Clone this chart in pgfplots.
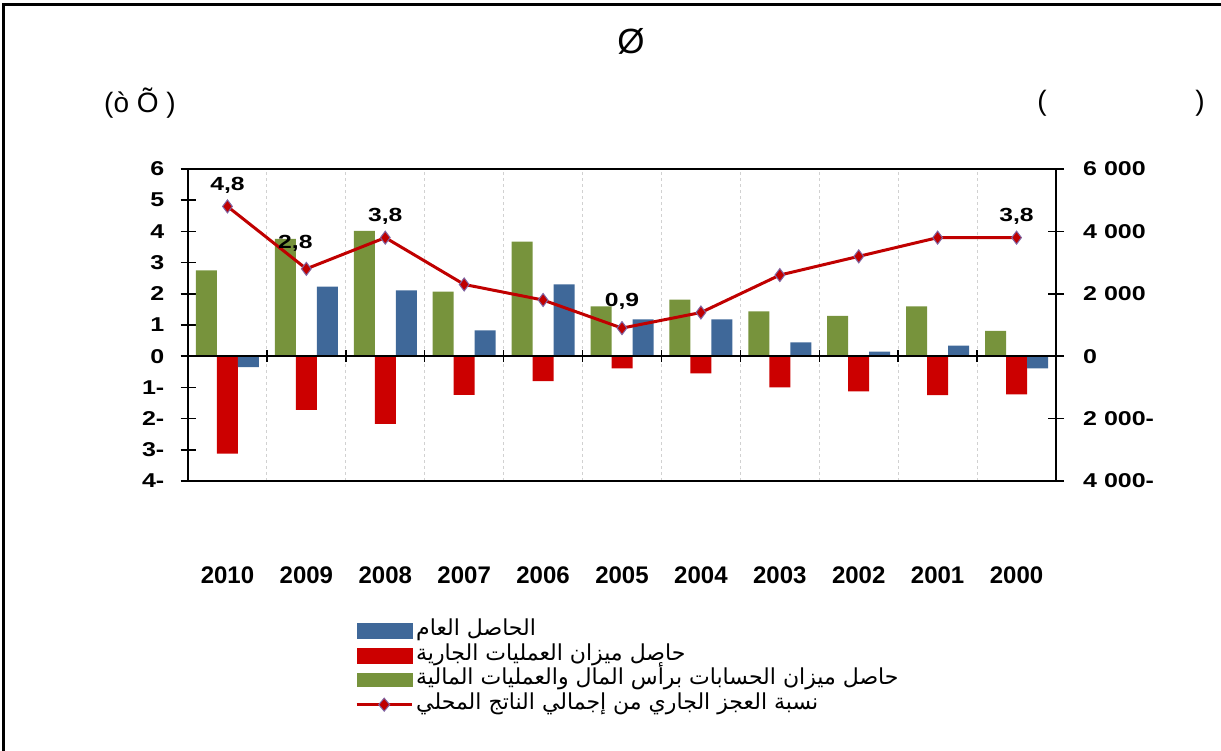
\documentclass[border=0pt]{standalone}
\usepackage{pgfplots}
\pgfplotsset{compat=1.18}
\usepackage{pgfplotstable}
\usepackage{fontspec}
\setmainfont{Liberation Sans}
\newfontfamily\arabicfont[Script=Arabic]{DejaVu Sans}
\TeXXeTstate=1
\definecolor{greenB}{HTML}{77933C}
\definecolor{redB}{HTML}{CC0000}
\definecolor{blueB}{HTML}{3F6899}
\definecolor{lineR}{HTML}{C00000}
\definecolor{markB}{HTML}{8064A2}
\newcommand{\tl}[1]{\scalebox{1.25}[1]{\bfseries #1}}
\newcommand{\dl}[1]{\scalebox{1.3}[1]{\bfseries #1}}

\pgfplotstableread{
x green red blue ratio
0 2.75 -3.12 -0.35 4.8
1 3.76 -1.72 2.23 2.8
2 4.02 -2.17 2.11 3.8
3 2.07 -1.24 0.83 2.3
4 3.67 -0.80 2.30 1.8
5 1.60 -0.39 1.18 0.9
6 1.81 -0.55 1.18 1.4
7 1.44 -1.00 0.44 2.6
8 1.29 -1.13 0.15 3.2
9 1.60 -1.25 0.34 3.8
10 0.81 -1.22 -0.39 3.8
}\data

\pgfplotstableread{
x y label
0 4.8 4,8
2 3.8 3,8
10 3.8 3,8
}\labA
\pgfplotstableread{
x y label
1 2.8 2,8
}\labB
\pgfplotstableread{
x y label
5 0.9 0,9
}\labC

\begin{document}
\begin{tikzpicture}[x=1pt,y=1pt]
\path[use as bounding box] (0,0) rectangle (1221,751);
\draw[line width=3pt] (3,0) -- (3,746) -- (1221,746);
\node[font=\fontsize{35}{37}\selectfont] at (631,710) {Ø};
\node[font=\fontsize{28}{30}\selectfont] at (140,648) {(ò Õ )};
\node[font=\fontsize{28}{30}\selectfont] at (1042,648) {(};
\node[font=\fontsize{28}{30}\selectfont] at (1200,648) {)};

\begin{axis}[
  at={(188pt,270pt)}, anchor=south west,
  scale only axis, width=868pt, height=312pt,
  xmin=-0.5, xmax=10.5, ymin=-4, ymax=6,
  axis line style={line width=2pt},
  ytick={-4,...,6},
  yticklabels={\tl{4-},\tl{3-},\tl{2-},\tl{1-},\tl{0},\tl{1},\tl{2},\tl{3},\tl{4},\tl{5},\tl{6}},
  ytick pos=left, ytick align=center,
  major tick length=15pt, minor tick length=0pt,
  tick style={black, line width=1.5pt},
  yticklabel style={font=\fontsize{20}{21}\selectfont, anchor=east, inner sep=0pt, xshift=-16pt},
  xtick={0,...,10},
  xticklabels={2010,2009,2008,2007,2006,2005,2004,2003,2002,2001,2000},
  xtick style={draw=none},
  xticklabel style={font=\bfseries\fontsize{24}{25}\selectfont, inner sep=0pt, anchor=north, yshift=-86pt},
  minor xtick={0.5,1.5,...,9.5},
  xminorgrids=true,
  minor x grid style={dashed, black!18, line width=1pt},
  clip=false,
  legend style={at={(0.1924,-0.447)}, anchor=north west, draw=none, fill=none, inner sep=0pt,
     font=\arabicfont\fontsize{22}{24}\selectfont, row sep=3.5pt, column sep=3pt,
     nodes={inner sep=0pt, text height=15pt, text depth=6pt}},
  legend cell align=left,
]
\addplot[ybar, bar width=21pt, bar shift=-21pt, fill=greenB, draw=none, forget plot] table[x=x,y=green] {\data};
\addplot[ybar, bar width=21pt, bar shift=0pt, fill=redB, draw=none, forget plot] table[x=x,y=red] {\data};
\addplot[ybar, bar width=21pt, bar shift=21pt, fill=blueB, draw=none, forget plot] table[x=x,y=blue] {\data};
\draw[line width=2pt] (axis cs:-0.5,0) -- (axis cs:10.5,0);
\pgfplotsinvokeforeach{0.5,1.5,2.5,3.5,4.5,5.5,6.5,7.5,8.5,9.5}{\draw[line width=1.5pt] ([yshift=-6pt]axis cs:#1,0) -- ([yshift=6pt]axis cs:#1,0);}
\addplot[lineR, line width=3pt, mark=diamond*, mark size=6.5pt, mark options={fill=lineR, draw=markB, line width=1pt}, forget plot] table[x=x,y=ratio] {\data};
\addplot[draw=none, mark=none, forget plot, nodes near coords={\dl{\pgfplotspointmeta}}, point meta=explicit symbolic,
  nodes near coords style={font=\fontsize{19}{21}\selectfont, anchor=center, yshift=21pt}] table[x=x,y=y,meta=label] {\labA};
\addplot[draw=none, mark=none, forget plot, nodes near coords={\dl{\pgfplotspointmeta}}, point meta=explicit symbolic,
  nodes near coords style={font=\fontsize{19}{21}\selectfont, anchor=center, yshift=25pt, xshift=-11pt}] table[x=x,y=y,meta=label] {\labB};
\addplot[draw=none, mark=none, forget plot, nodes near coords={\dl{\pgfplotspointmeta}}, point meta=explicit symbolic,
  nodes near coords style={font=\fontsize{19}{21}\selectfont, anchor=center, yshift=27pt}] table[x=x,y=y,meta=label] {\labC};

\addlegendimage{legend image code/.code={\fill[blueB] (0pt,-7.5pt) rectangle (55pt,7.5pt);}}
\addlegendentry{\beginR الحاصل العام\endR}
\addlegendimage{legend image code/.code={\fill[redB] (0pt,-7.5pt) rectangle (55pt,7.5pt);}}
\addlegendentry{\beginR حاصل ميزان العمليات الجارية\endR}
\addlegendimage{legend image code/.code={\fill[greenB] (0pt,-6.5pt) rectangle (55pt,6.5pt);}}
\addlegendentry{\beginR حاصل ميزان الحسابات برأس المال والعمليات المالية\endR}
\addlegendimage{legend image code/.code={\draw[lineR, line width=3pt] (0pt,0pt) -- (55pt,0pt); \fill[lineR, draw=markB, line width=1pt] (27.5pt,-6.5pt) -- (33pt,0pt) -- (27.5pt,6.5pt) -- (22pt,0pt) -- cycle;}}
\addlegendentry{\beginR نسبة العجز الجاري من إجمالي الناتج المحلي\endR}
\end{axis}

\begin{axis}[
  at={(188pt,270pt)}, anchor=south west,
  scale only axis, width=868pt, height=312pt,
  xmin=-0.5, xmax=10.5, ymin=-4000, ymax=6000,
  axis x line=none, axis y line*=right,
  y axis line style={-, line width=2pt},
  ytick={-4000,-2000,0,2000,4000,6000},
  yticklabels={\tl{4 000-},\tl{2 000-},\tl{0},\tl{2 000},\tl{4 000},\tl{6 000}},
  ytick align=center, major tick length=16pt,
  tick style={black, line width=1.5pt},
  yticklabel style={font=\fontsize{20}{21}\selectfont, anchor=west, inner sep=0pt, xshift=19pt},
]
\addplot[draw=none, mark=none, forget plot] coordinates {(0,0)};
\end{axis}
\end{tikzpicture}
\end{document}
